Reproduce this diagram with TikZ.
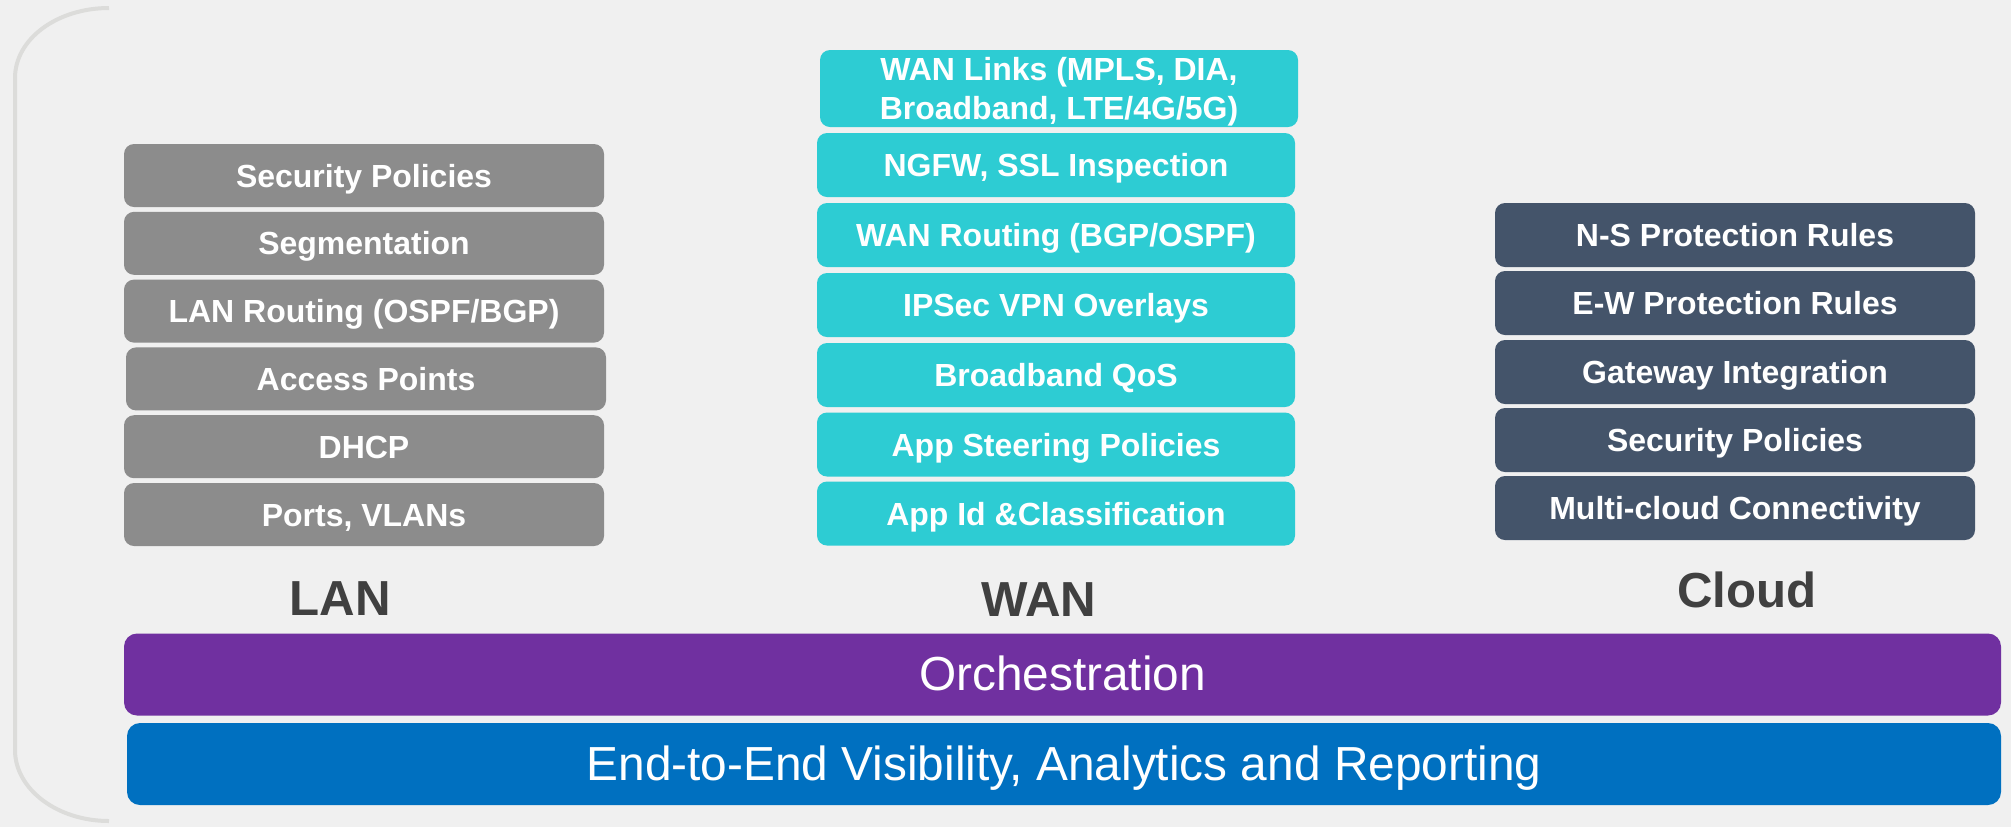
\documentclass[tikz,border=0pt]{standalone}
\usepackage{fontspec}
\setmainfont{Liberation Sans}
\usepackage{xcolor}

\definecolor{bggray}{HTML}{F0F0F0}
\definecolor{bracketgray}{HTML}{DCDCDA}
\definecolor{langray}{HTML}{8C8C8C}
\definecolor{wancyan}{HTML}{2DCCD3}
\definecolor{cloudblue}{HTML}{44546A}
\definecolor{orchpurple}{HTML}{7030A0}
\definecolor{visblue}{HTML}{0070C0}
\definecolor{labelgray}{HTML}{404040}

\begin{document}
\begin{tikzpicture}[x=0.1mm, y=-0.1mm,
        layer/.style={rounded corners=1mm, minimum width=48mm, minimum height=6.4mm,
            inner sep=0pt, align=center, text=white, text height=2.3mm, text depth=0mm,
            font=\bfseries\fontsize{9.1}{11}\selectfont},
        lanbox/.style={layer, fill=langray, minimum height=6.3mm},
        wanbox/.style={layer, fill=wancyan, minimum width=47.8mm},
        cloudbox/.style={layer, fill=cloudblue},
        column/.style={text=labelgray, font=\bfseries\fontsize{14}{16}\selectfont},
        bar/.style={rounded corners=1.3mm, minimum height=8.2mm, inner sep=0pt, text=white,
            text height=3.2mm, text depth=0mm, font=\fontsize{13.6}{16}\selectfont}]
        \fill[bggray] (0,0) rectangle (2011,827);
        \useasboundingbox (0,0) rectangle (2011,827);
        % side bracket
        \draw[bracketgray, line width=0.4mm] (109,8) .. controls (57,8) and (15,39) .. (15,78)
            -- (15,750) .. controls (15,789) and (57,821) .. (109,821);

        % LAN stack
        \node[lanbox] (lan1) at (364, 175.5) {Security Policies};
        \node[lanbox] (lan2) at (364, 243.3) {Segmentation};
        \node[lanbox] (lan3) at (364, 311.1) {LAN Routing (OSPF/BGP)};
        \node[lanbox] (lan4) at (366, 378.9) {Access Points};
        \node[lanbox] (lan5) at (364, 446.7) {DHCP};
        \node[lanbox] (lan6) at (364, 514.5) {Ports, VLANs};
        \node[column] (lan) at (340, 599) {LAN};

        % WAN stack
        \node[wanbox, minimum height=7.7mm, text height=6.17mm] (wan1) at (1059, 88.5) {WAN Links (MPLS, DIA,\\Broadband, LTE/4G/5G)};
        \node[wanbox] (wan2) at (1056, 165) {NGFW, SSL Inspection};
        \node[wanbox] (wan3) at (1056, 235) {WAN Routing (BGP/OSPF)};
        \node[wanbox] (wan4) at (1056, 305) {IPSec VPN Overlays};
        \node[wanbox] (wan5) at (1056, 375) {Broadband QoS};
        \node[wanbox] (wan6) at (1056, 444.5) {App Steering Policies};
        \node[wanbox] (wan7) at (1056, 513.5) {App Id \&Classification};
        \node[column] (wan) at (1039, 600) {WAN};

        % Cloud stack
        \node[cloudbox] (cloud1) at (1735, 235) {N-S Protection Rules};
        \node[cloudbox] (cloud2) at (1735, 303) {E-W Protection Rules};
        \node[cloudbox] (cloud3) at (1735, 372) {Gateway Integration};
        \node[cloudbox] (cloud4) at (1735, 440) {Security Policies};
        \node[cloudbox] (cloud5) at (1735, 508) {Multi-cloud Connectivity};
        \node[column] (cloud) at (1747, 590) {Cloud};

        % common layers
        \node[bar, fill=orchpurple, minimum width=187.7mm] (orch) at (1062.5, 674.5) {Orchestration};
        \node[bar, fill=visblue, minimum width=187.4mm] (vis) at (1064, 764) {End-to-End Visibility, Analytics and Reporting};
    \end{tikzpicture}
\end{document}
